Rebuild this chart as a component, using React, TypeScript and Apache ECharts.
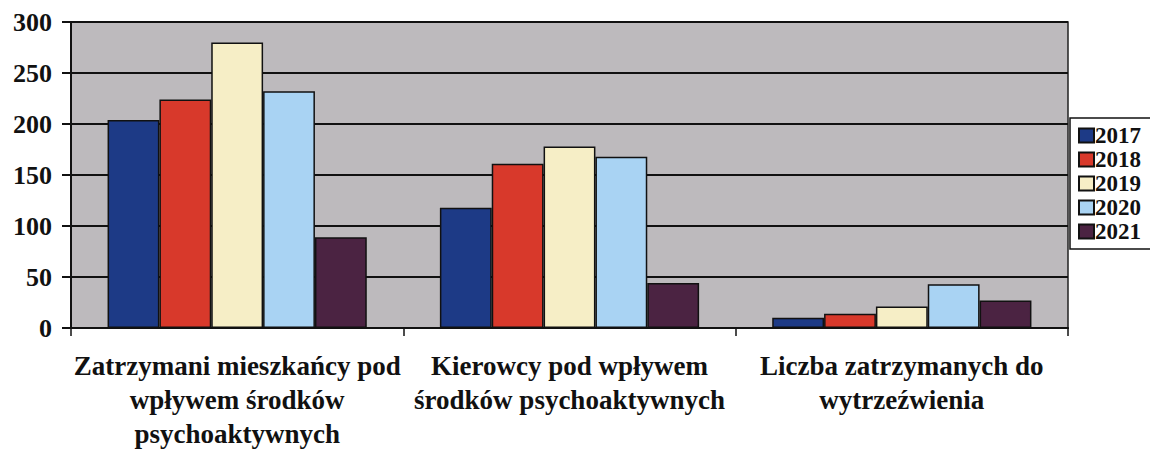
import React, { useEffect, useRef } from "react";
import * as echarts from "echarts";

const categories = [
  "Zatrzymani mieszkańcy pod\nwpływem środków\npsychoaktywnych",
  "Kierowcy pod wpływem\nśrodków psychoaktywnych",
  "Liczba zatrzymanych do\nwytrzeźwienia",
];
const years = ["2017", "2018", "2019", "2020", "2021"];
const v2017 = [204, 118, 10];
const v2018 = [224, 161, 14];
const v2019 = [280, 178, 21];
const v2020 = [232, 168, 43];
const v2021 = [89, 44, 27];
const seriesValues = [v2017, v2018, v2019, v2020, v2021];
const colors = ["#1d3a86", "#d8392b", "#f6eec6", "#a9d3f3", "#4b2342"];
const yTicks = [0, 50, 100, 150, 200, 250, 300];

const FONT = "Liberation Serif";

export default function App() {
  const ref = useRef<HTMLDivElement>(null);
  useEffect(() => {
    if (!ref.current) return;
    const chart = echarts.init(ref.current, null, { renderer: "svg" });
    chart.setOption({
      animation: false,
      backgroundColor: "#ffffff",
      textStyle: { fontFamily: FONT },
      grid: {
        left: 71,
        right: 82,
        top: 22,
        bottom: 124,
        outerBoundsMode: "none",
        containLabel: false,
        show: true,
        backgroundColor: "#bdbabd",
        borderColor: "#222",
        borderWidth: 1.5,
      },
      legend: {
        orient: "vertical",
        left: 1070,
        top: 118,
        itemWidth: 15,
        itemHeight: 14,
        itemGap: 1,
        icon: "rect",
        borderColor: "#111",
        borderWidth: 1.5,
        padding: [6, 12, 6, 8],
        data: years,
        textStyle: {
          fontFamily: FONT,
          fontWeight: "bold",
          fontSize: 23,
          lineHeight: 21,
          color: "#111",
          padding: [0, 0, 0, -4],
        },
      },
      xAxis: {
        type: "category",
        data: categories,
        axisLine: { lineStyle: { color: "#111", width: 2 } },
        axisTick: { show: true, length: 8, lineStyle: { color: "#111", width: 1.5 } },
        axisLabel: {
          interval: 0,
          margin: 21,
          fontFamily: FONT,
          fontWeight: "bold",
          fontSize: 27,
          lineHeight: 34,
          color: "#111",
          align: "center",
        },
      },
      yAxis: {
        type: "value",
        min: 0,
        max: 300,
        interval: 50,
        axisLine: { show: true, lineStyle: { color: "#111", width: 2 } },
        axisTick: { show: true, inside: false, length: 9, lineStyle: { color: "#111", width: 2 } },
        splitLine: { show: true, lineStyle: { color: "#111", width: 2 } },
        axisLabel: {
          margin: 19,
          fontFamily: FONT,
          fontWeight: "bold",
          fontSize: 26,
          color: "#111",
          formatter: (v: number) => (yTicks.includes(v) ? String(v) : ""),
        },
      },
      series: years.map((y, i) => ({
        name: y,
        type: "bar",
        data: seriesValues[i],
        barGap: "0%",
        barCategoryGap: "22%",
        itemStyle: { color: colors[i], borderColor: "#111", borderWidth: 1.5 },
      })),
    });
    return () => chart.dispose();
  }, []);
  return (
    <div
      ref={ref}
      style={{ position: "absolute", left: 0, top: 0, width: 1150, height: 452 }}
    />
  );
}
